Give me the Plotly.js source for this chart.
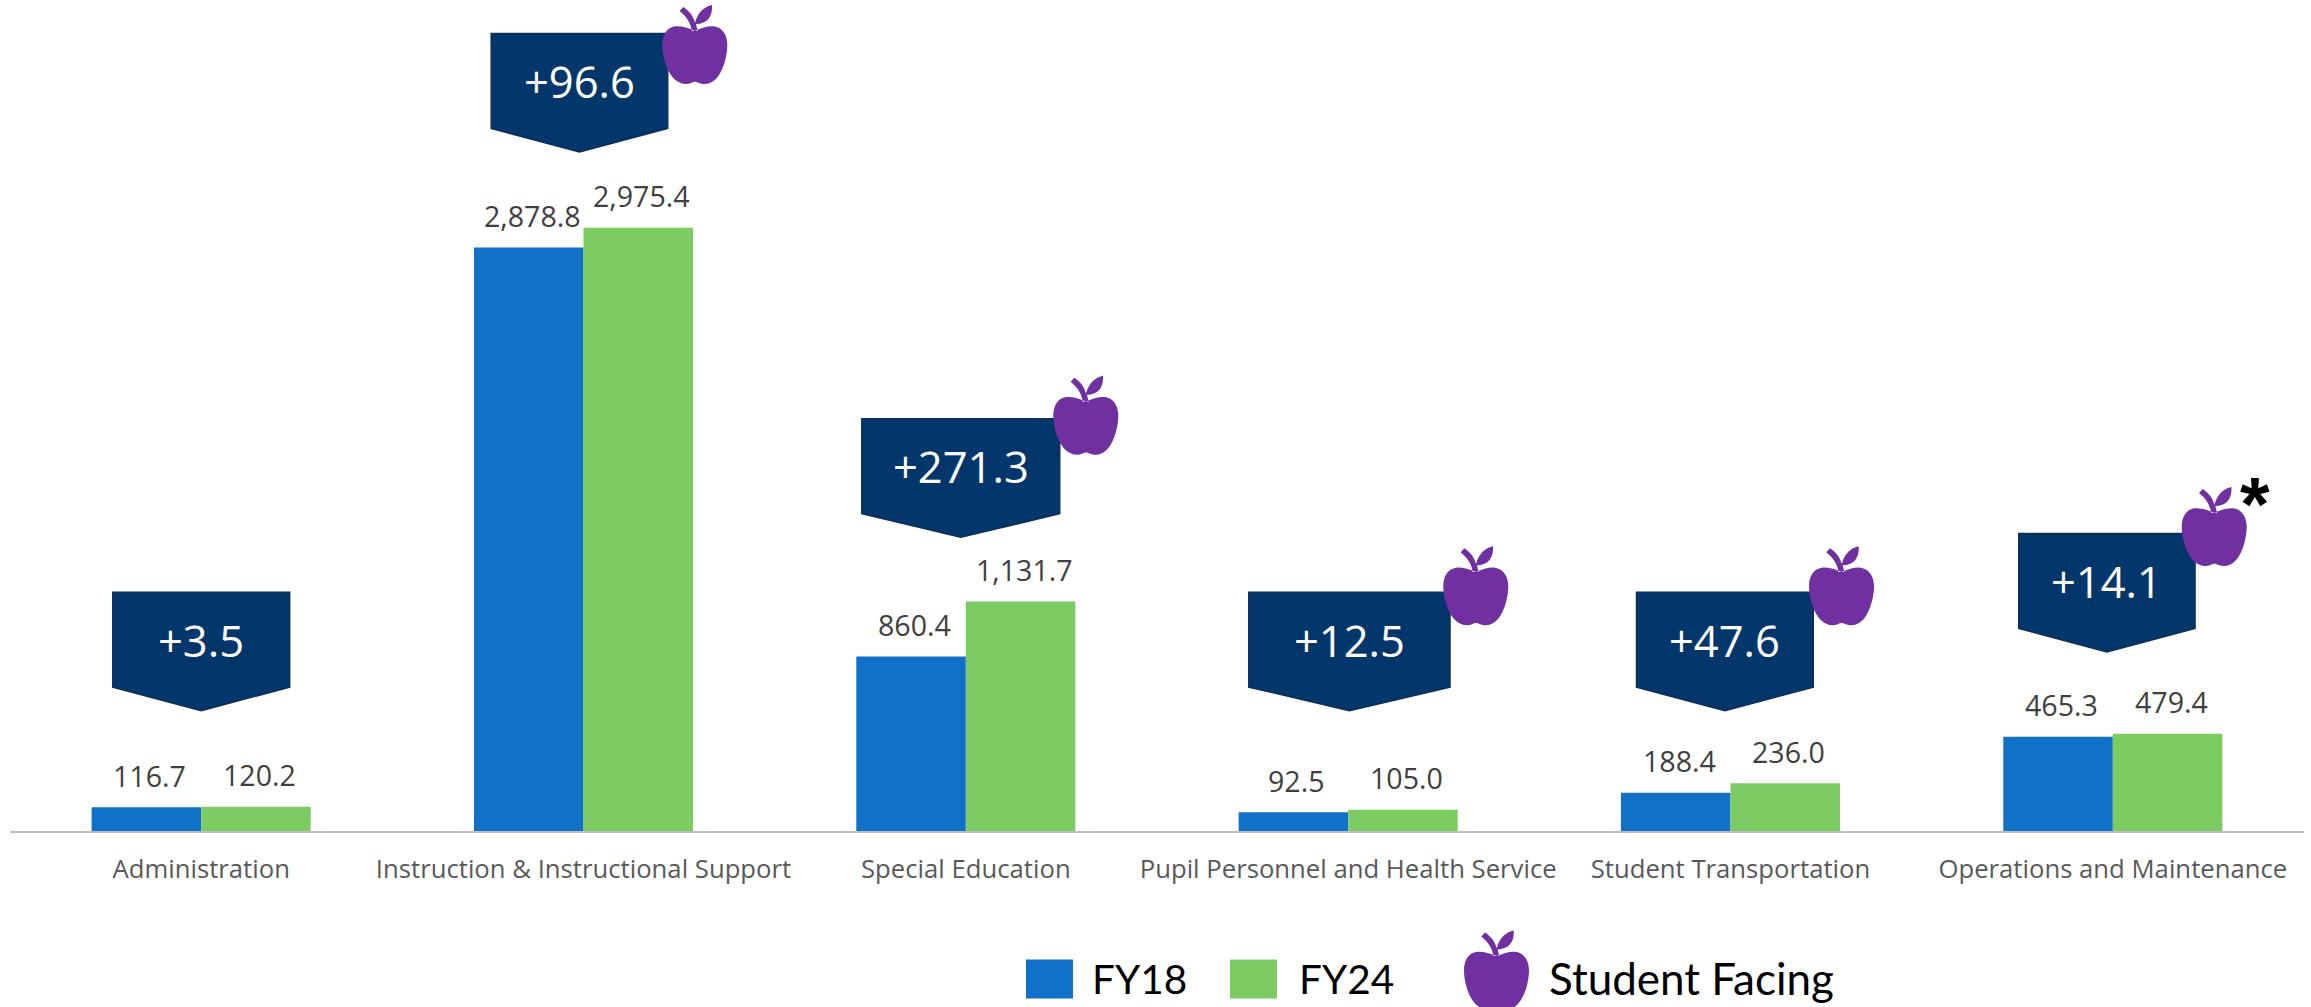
<!DOCTYPE html>
<html><head><meta charset="utf-8">
<script src="https://cdn.plot.ly/plotly-3.0.1.min.js"></script>
<style>html,body{margin:0;padding:0;background:#fff;overflow:hidden}#c{width:2311px;height:1007px}</style>
</head><body><div id="c"></div>
<script>
const categories = ['Administration','Instruction & Instructional Support','Special Education','Pupil Personnel and Health Service','Student Transportation','Operations and Maintenance'];
const fy18 = [116.7,2878.8,860.4,92.5,188.4,465.3];
const fy24 = [120.2,2975.4,1131.7,105.0,236.0,479.4];
const changes = ['+3.5','+96.6','+271.3','+12.5','+47.6','+14.1'];
const seriesNames = ['FY18','FY24'];
const studentFacingLabel = 'Student Facing';

const W=2311,H=1007,L=10,R=2304,B=831.5,PXV=603.5/2975.4;
const C={blue:'#1170C7',green:'#7DCB63',navy:'#03366A',navyLine:'#0B2F58',purple:'#70309F',label:'#404040',tick:'#595959',axis:'#BFBFBF'};
const px=x=>(x-L)/(R-L), py=y=>(B-y)/B;

// callout boxes: left, width, top, per category
const boxes=[[112.8,176.9,592.5],[491.2,176.5,33.5],[861.8,197.9,419],[1248.8,201.2,592.5],[1636.5,176.8,592.5],[2018.8,176.2,533.8]];
// apples: body-left, leaf-top
const apples=[[662.3,5],[1053.3,376],[1443.3,546.7],[1809,546.7],[2181.7,487.3],[1464,931]];

function calloutShape(b){const w=b[1];
  return {type:'path',xref:'paper',yref:'paper',xsizemode:'pixel',ysizemode:'pixel',xanchor:px(b[0]),yanchor:py(b[2]),
    path:`M0,0 L${w},0 L${w},-95 L${w/2},-118.5 L0,-95 Z`,fillcolor:C.navy,line:{color:C.navyLine,width:1.5},layer:'above'};}
function applePath(){
  const p=(x,y)=>`${((x-37)/3).toFixed(2)},${(-(y-15)/3).toFixed(2)}`;
  const c=(a,b,d,e,f,g)=>`C${p(a,b)} ${p(d,e)} ${p(f,g)} `;
  return 'M'+p(135,92)+' '+c(115,84,92,77,76,79)+c(52,82,37,103,37,135)+c(37,175,58,252,108,252)+c(120,252,128,245,135,245)
    +c(142,245,150,252,165,252)+c(212,252,232,175,232,135)+c(232,103,215,82,192,79)+c(175,77,155,84,135,92)+'Z '
    +'M'+p(89,33)+' L'+p(100,21)+' '+c(118,33,130,48,135,68)+c(146,32,165,20,186,15)+c(189,48,172,72,138,72)
    +'L'+p(143,92)+' L'+p(125,92)+' '+c(123,70,110,50,89,33)+'Z';
}
function appleShape(a){return {type:'path',xref:'paper',yref:'paper',xsizemode:'pixel',ysizemode:'pixel',xanchor:px(a[0]),yanchor:py(a[1]),
    path:applePath(),fillcolor:C.purple,line:{width:0},layer:'above'};}
function swatch(x0,x1,y0,y1,col){return {type:'rect',xref:'paper',yref:'paper',x0:px(x0),x1:px(x1),y0:py(y1),y1:py(y0),fillcolor:col,line:{width:0},layer:'above'};}

const fmt=v=>v.toLocaleString('en-US',{minimumFractionDigits:1,maximumFractionDigits:1});
const halfBar=0.1433;
const annotations=[];
[[fy18,-halfBar],[fy24,halfBar]].forEach(([vals,off])=>vals.forEach((v,i)=>annotations.push({
  xref:'x',yref:'y',x:i+off,y:v,text:fmt(v),showarrow:false,xanchor:'center',yanchor:'bottom',xshift:3.5,yshift:10.5,
  font:{family:'Open Sans',size:28.6,color:C.label}})));
boxes.forEach((b,i)=>annotations.push({xref:'paper',yref:'paper',x:px(b[0]+b[1]/2),y:py(b[2]+48),text:changes[i],showarrow:false,
  xanchor:'center',yanchor:'middle',font:{family:'Open Sans',size:43.5,color:'#fff'}}));
const legendText=(x,t,s)=>({xref:'paper',yref:'paper',x:px(x),y:py(979),text:t,showarrow:false,xanchor:'left',yanchor:'middle',
  font:{family:'Lato',size:s,color:'#000'},borderpad:0,borderwidth:0});
annotations.push(legendText(1092,seriesNames[0],40.5),legendText(1299,seriesNames[1],40.5),legendText(1549,studentFacingLabel,44));
annotations.push({xref:'paper',yref:'paper',x:px(2255),y:py(493),text:'*',showarrow:false,xanchor:'center',yanchor:'middle',
  font:{family:'Liberation Sans',size:76,color:'#000',weight:700},yshift:-11});

const shapes=[...boxes.map(calloutShape),...apples.map(appleShape),swatch(1026,1073,960,999,C.blue),swatch(1230,1277,960,999,C.green)];

const traces=[{type:'bar',name:seriesNames[0],x:categories,y:fy18,marker:{color:C.blue,line:{width:0}},hoverinfo:'x+y'},
 {type:'bar',name:seriesNames[1],x:categories,y:fy24,marker:{color:C.green,line:{width:0}},hoverinfo:'x+y'}];
const layout={width:W,height:H,autosize:false,showlegend:false,barmode:'group',bargap:0.427,bargroupgap:0,
  margin:{l:L,r:W-R,t:0,b:H-B,pad:0},paper_bgcolor:'#fff',plot_bgcolor:'#fff',
  xaxis:{type:'category',categoryorder:'array',categoryarray:categories,range:[-0.5,5.5],showgrid:false,zeroline:false,showline:true,linecolor:C.axis,linewidth:2,
    ticks:'',tickangle:0,automargin:false,tickfont:{family:'Open Sans',size:25.7,color:C.tick},ticklabelstandoff:14},
  yaxis:{range:[0,B/PXV],visible:false,showgrid:false,zeroline:false,fixedrange:true},
  shapes,annotations};
Plotly.newPlot('c',traces,layout,{displayModeBar:false,staticPlot:true});
</script></body></html>
